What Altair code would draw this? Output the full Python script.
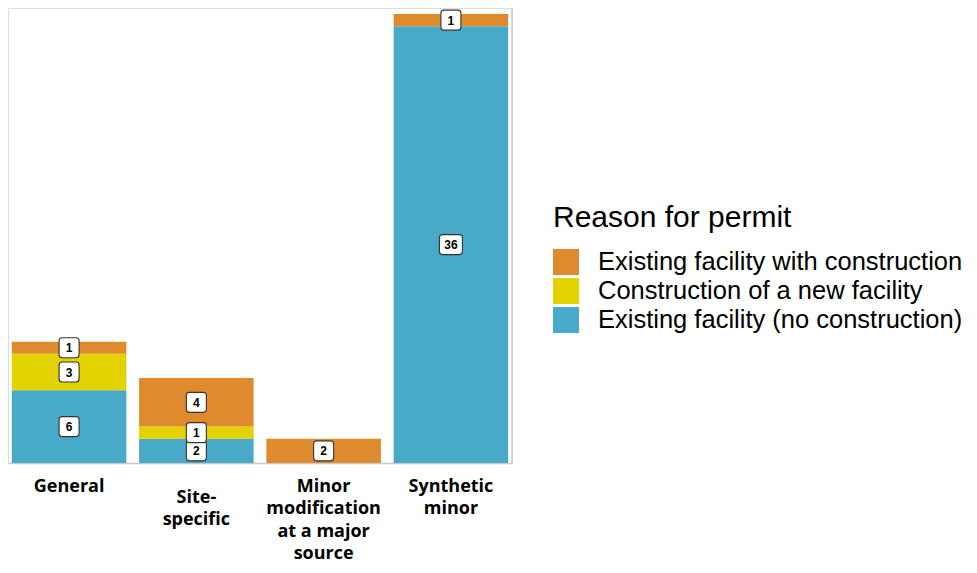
import altair as alt
import pandas as pd

# ---- data ----
categories = ["General", "Site-|specific", "Minor|modification|at a major|source", "Synthetic|minor"]
reasons = [
    "Existing facility with construction",
    "Construction of a new facility",
    "Existing facility (no construction)",
]
colors = ["#DF8B2D", "#E2D200", "#46AAC8"]
with_construction = [1, 4, 2, 1]
new_facility = [3, 1, 0, 0]
no_construction = [6, 2, 0, 36]

series = {reasons[0]: with_construction, reasons[1]: new_facility, reasons[2]: no_construction}
stack_rank = {reasons[2]: 0, reasons[1]: 1, reasons[0]: 2}

rows = []
for ci, cat in enumerate(categories):
    base = 0
    for r in [reasons[2], reasons[1], reasons[0]]:
        v = series[r][ci]
        if v > 0:
            rows.append({
                "category": cat, "reason": r, "count": v, "rank": stack_rank[r],
                "mid": base + v / 2, "label": str(v),
                "digits": "two" if v >= 10 else "one",
            })
        base += v
df = pd.DataFrame(rows)

box1 = "M -0.7,-1 L 0.7,-1 Q 1,-1 1,-0.7 L 1,0.7 Q 1,1 0.7,1 L -0.7,1 Q -1,1 -1,0.7 L -1,-0.7 Q -1,-1 -0.7,-1 Z"
box2 = "M -0.85,-1 L 0.85,-1 Q 1.15,-1 1.15,-0.7 L 1.15,0.7 Q 1.15,1 0.85,1 L -0.85,1 Q -1.15,1 -1.15,0.7 L -1.15,-0.7 Q -1.15,-1 -0.85,-1 Z"

PLOT_W = 504
PLOT_H = 455

x_enc = alt.X(
    "category:N",
    sort=categories,
    scale=alt.Scale(paddingInner=0.1, paddingOuter=0.03),
    axis=alt.Axis(
        title=None,
        labelExpr="split(datum.label, '|')",
        labelAngle=0,
        labelFont="Open Sans",
        labelFontWeight="bold",
        labelFontSize=18,
        labelColor="#000000",
        labelLineHeight=22.5,
        labelBaseline="top",
        labelPadding={"condition": {"test": "datum.value == 'Site-|specific'", "value": 25}, "value": 14},
        ticks=False,
        tickSize=0,
        domainColor="#C8C8C8",
        domainWidth=1.5,
        labelLimit=0,
    ),
)
y_scale = alt.Scale(domain=[0, 37.5], nice=False)

bars = alt.Chart(df).mark_bar().encode(
    x=x_enc,
    y=alt.Y("sum(count):Q", stack="zero", scale=y_scale, axis=None),
    color=alt.Color(
        "reason:N",
        scale=alt.Scale(domain=reasons, range=colors),
        legend=alt.Legend(
            title="Reason for permit",
            orient="none",
            legendX=545,
            legendY=195,
            symbolType="square",
            symbolSize=676,
            symbolStrokeWidth=0,
            symbolOpacity=1,
            labelFont="Liberation Sans",
            labelFontSize=25.5,
            labelColor="#000000",
            labelOffset=19,
            labelLimit=0,
            titleFont="Liberation Sans",
            titleFontSize=30,
            titleFontWeight="normal",
            titleColor="#000000",
            titleLimit=0,
            titlePadding=16,
            rowPadding=2,
            padding=0,
        ),
    ),
    order=alt.Order("rank:Q", sort="ascending"),
)

boxes = alt.Chart(df).mark_point(filled=True, fill="white", stroke="#333333", strokeWidth=1.1, opacity=1, size=400).encode(
    x=alt.X("category:N", sort=categories),
    y=alt.Y("mid:Q", scale=y_scale),
    shape=alt.Shape("digits:N", scale=alt.Scale(domain=["one", "two"], range=[box1, box2]), legend=None),
)

texts = alt.Chart(df).mark_text(font="Liberation Sans", fontWeight="bold", fontSize=12, color="#000000", baseline="middle", dy=0.5).encode(
    x=alt.X("category:N", sort=categories),
    y=alt.Y("mid:Q", scale=y_scale),
    text="label:N",
)

right_rule = alt.Chart(alt.Data(values=[{}])).mark_rule(color="#C8C8C8", strokeWidth=1.5).encode(
    x=alt.value(PLOT_W), y=alt.value(0), y2=alt.value(PLOT_H)
)

chart = alt.layer(bars, boxes, texts, right_rule).properties(
    width=PLOT_W,
    height=PLOT_H,
    autosize=alt.AutoSizeParams(type="none"),
    padding={"left": 0, "top": 0, "right": 457, "bottom": 102},
).configure_view(stroke=None).configure(background="white")

chart.save("out.html", embed_options={"renderer": "svg", "actions": False})
